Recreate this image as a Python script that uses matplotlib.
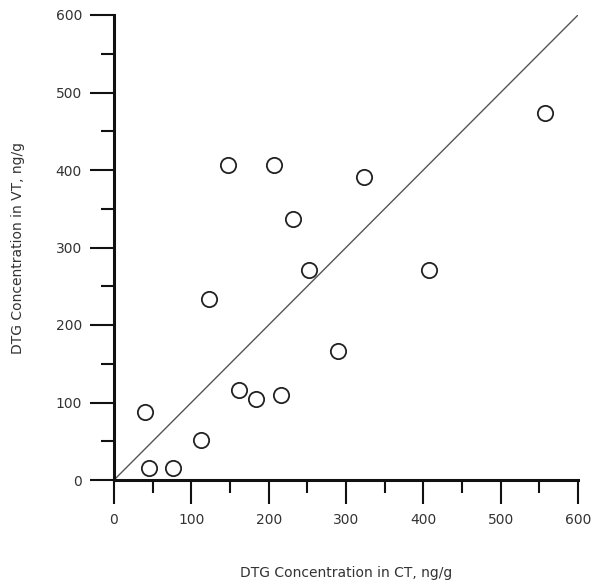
import matplotlib
matplotlib.use('Agg')
import matplotlib.pyplot as plt
from matplotlib.ticker import MultipleLocator

# DTG concentrations, ng/g
ct = [40, 45, 76, 112, 123, 147, 162, 184, 207, 216, 231, 252, 290, 323, 407, 557]
vt = [88, 15, 15, 52, 234, 406, 116, 105, 406, 110, 337, 271, 166, 391, 271, 474]
line_ends = [0, 600]

fig = plt.figure(figsize=(6.01, 5.87), dpi=100)
ax = fig.add_axes([114 / 601, 107 / 587, 464 / 601, 465 / 587])

ax.plot(line_ends, line_ends, color='#555555', lw=1.0, zorder=1)
ax.plot(ct, vt, 'o', ms=11, mfc='white', mec='#222222', mew=1.3, zorder=3, clip_on=False)

ax.set_xlim(0, 600)
ax.set_ylim(0, 600)
for s in ['top', 'right']:
	ax.spines[s].set_visible(False)
for s in ['left', 'bottom']:
	ax.spines[s].set_linewidth(2.2)
	ax.spines[s].set_color('#111111')

ax.xaxis.set_major_locator(MultipleLocator(100))
ax.xaxis.set_minor_locator(MultipleLocator(50))
ax.yaxis.set_major_locator(MultipleLocator(100))
ax.yaxis.set_minor_locator(MultipleLocator(50))
ax.tick_params(which='major', length=17, width=1.5, color='#111111', labelsize=10, labelcolor='#333333')
ax.tick_params(axis='x', which='major', pad=7)
ax.tick_params(axis='y', which='major', pad=6)
ax.tick_params(which='minor', length=9.5, width=1.5, color='#111111')

ax.set_xlabel('DTG Concentration in CT, ng/g', fontsize=10, color='#333333', labelpad=28)
ax.set_ylabel('DTG Concentration in VT, ng/g', fontsize=10, color='#333333', labelpad=22)

fig.savefig('out.png', dpi=100)
